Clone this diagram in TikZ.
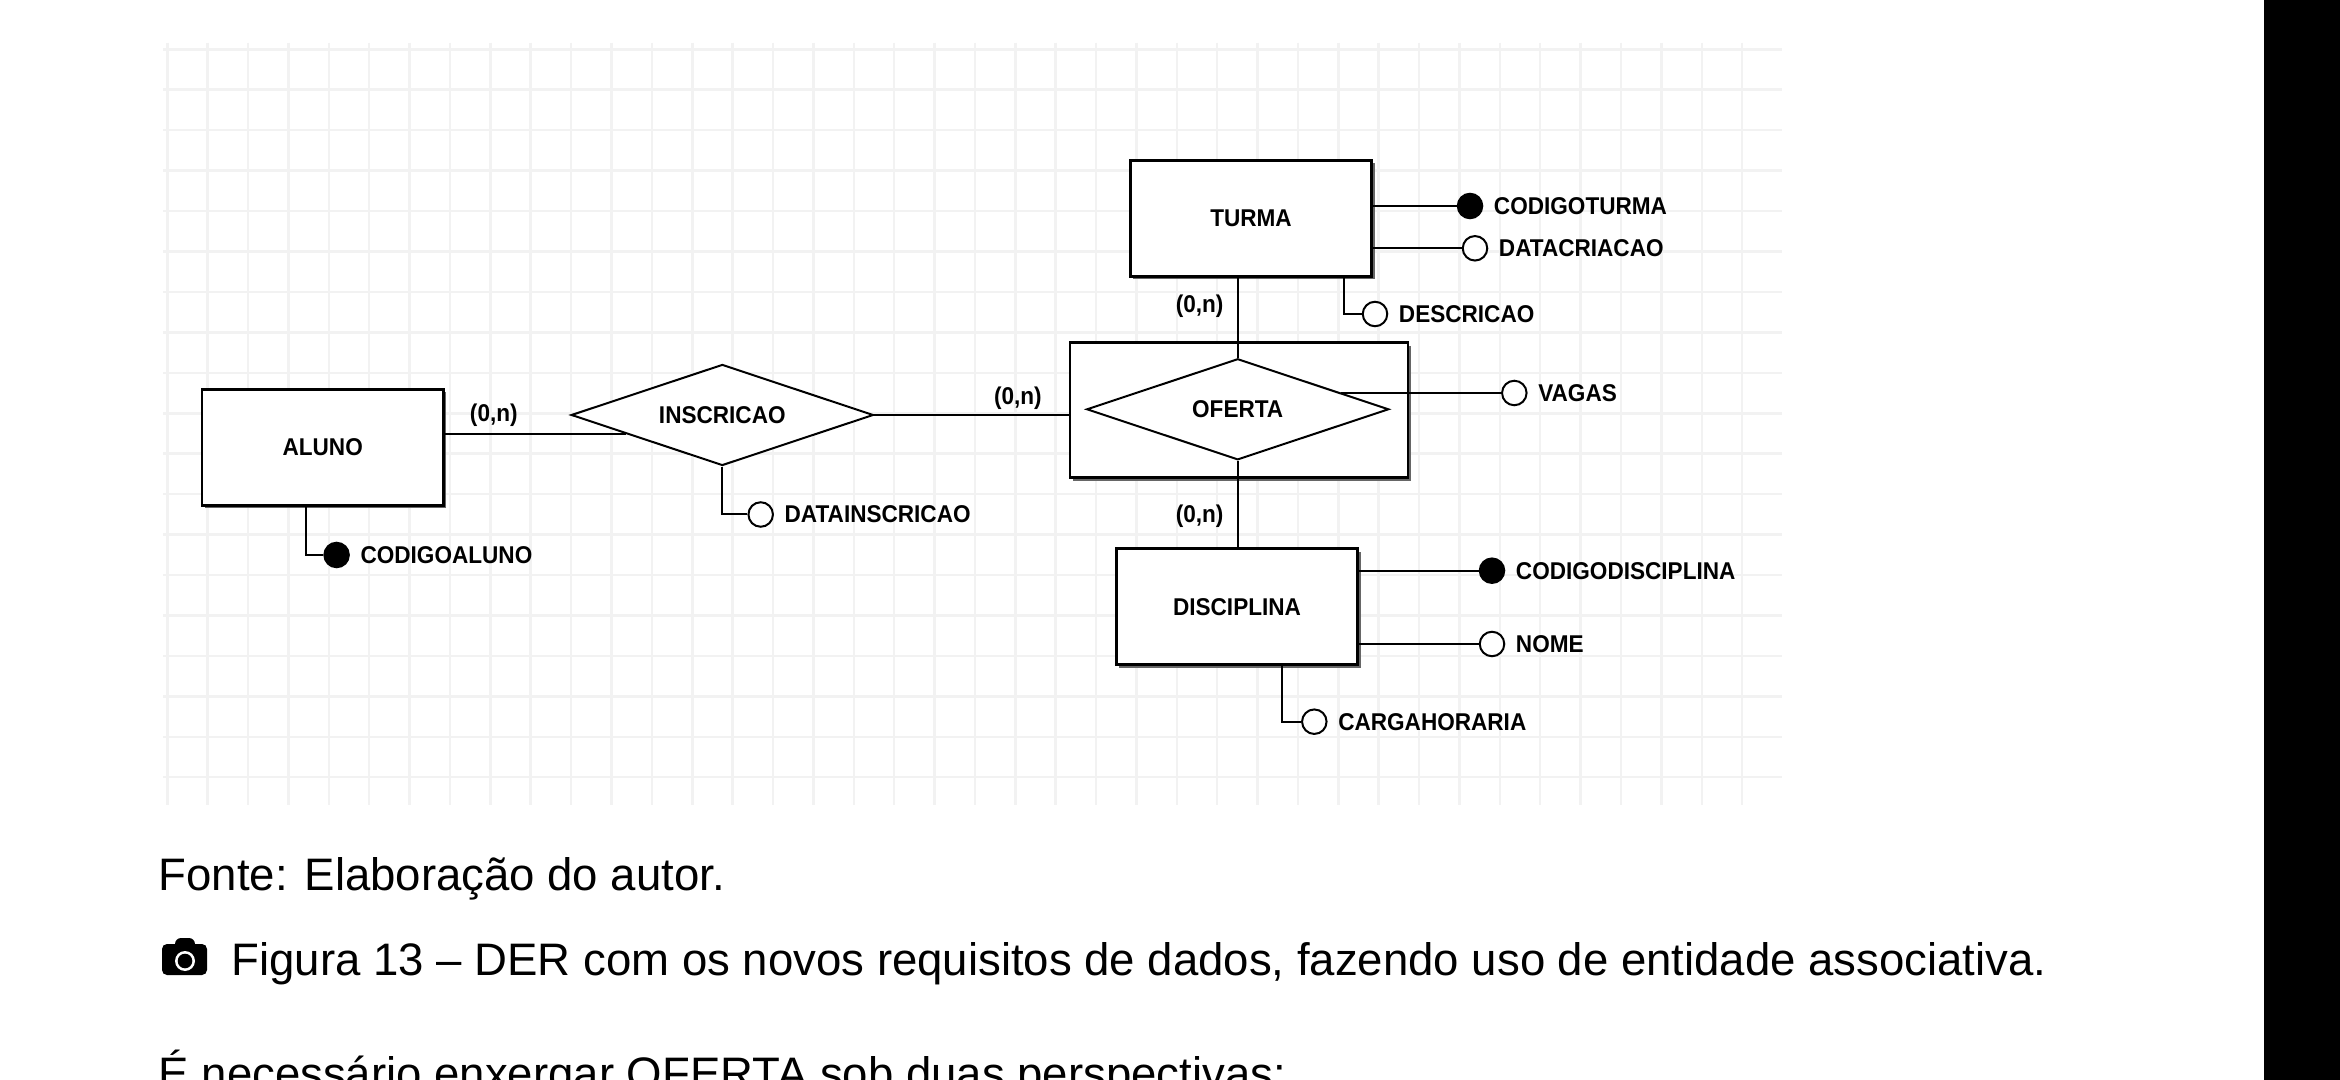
\documentclass[tikz,border=0pt]{standalone}
\usepackage{fontspec}
\setmainfont{Liberation Sans}
\newfontfamily\erfont{Liberation Sans}[FakeStretch=0.93]
\usetikzlibrary{shapes.geometric,shadows,positioning}

\begin{document}
\begin{tikzpicture}[x=0.01cm, y=-0.01cm,
    every node/.style={inner sep=0pt},
    gridline/.style={black!5, line width=0.25mm},
    conn/.style={line width=0.2mm},
    erlabel/.style={font=\erfont\bfseries\fontsize{6.9}{8}\selectfont},
    entity/.style={erlabel, draw, line width=0.27mm, fill=white,
        minimum width=2.41cm, minimum height=1.16cm,
        drop shadow={shadow xshift=0.3mm, shadow yshift=-0.3mm, fill=black!60, opacity=1}},
    relation/.style={erlabel, diamond, draw, line width=0.2mm, fill=white, aspect=3,
        minimum width=3.02cm, minimum height=1.01cm},
    attr/.style={circle, draw, line width=0.2mm, fill=white, minimum size=2.45mm},
    keyattr/.style={attr, fill=black},
    attrlabel/.style={erlabel, right=1mm of #1},
    card/.style={erlabel},
    caption/.style={font=\fontsize{12.95}{15}\selectfont, anchor=base west}]

    \useasboundingbox (0,0) rectangle (2340,1080);
    \fill[white] (0,0) rectangle (2340,1080);
    \fill[black] (2264,0) rectangle (2340,1080);

    % background grid
    \foreach \i in {0,...,39}
        \draw[gridline] (167.3+40.38*\i,42.7) -- (167.3+40.38*\i,805);
    \foreach \j in {0,...,18}
        \draw[gridline] (163,49.3+40.44*\j) -- (1782,49.3+40.44*\j);

    % entities and relationships
    \node[entity] (aluno) at (322.7,447.2) {ALUNO};
    \node[entity] (turma) at (1251,218.4) {TURMA};
    \node[entity] (disciplina) at (1237,606.7) {DISCIPLINA};
    \node[entity, minimum width=3.38cm, minimum height=1.35cm] (ofertabox) at (1239,410.2) {};
    \node[relation] (oferta) at (1237.7,409.3) {OFERTA};
    \node[relation] (inscricao) at (722.3,415) {INSCRICAO};

    % attributes
    \node[keyattr] (codaluno) at (336.6,555) {};
    \node[attrlabel=codaluno] (codalunotxt) {CODIGOALUNO};
    \node[attr] (datainscr) at (760.7,514.5) {};
    \node[attrlabel=datainscr] (datainscrtxt) {DATAINSCRICAO};
    \node[keyattr] (codturma) at (1470,206) {};
    \node[attrlabel=codturma] (codturmatxt) {CODIGOTURMA};
    \node[attr] (datacri) at (1475,248.3) {};
    \node[attrlabel=datacri] (datacritxt) {DATACRIACAO};
    \node[attr] (descr) at (1375,314) {};
    \node[attrlabel=descr] (descrtxt) {DESCRICAO};
    \node[attr] (vagas) at (1514.3,393) {};
    \node[attrlabel=vagas] (vagastxt) {VAGAS};
    \node[keyattr] (coddisc) at (1492,570.7) {};
    \node[attrlabel=coddisc] (coddisctxt) {CODIGODISCIPLINA};
    \node[attr] (nome) at (1492,644) {};
    \node[attrlabel=nome] (nometxt) {NOME};
    \node[attr] (carga) at (1314.3,721.7) {};
    \node[attrlabel=carga] (cargatxt) {CARGAHORARIA};

    % cardinalities
    \node[card] (cardaluno) at (493.8,415) {(0,n)};
    \node[card] (cardoferta) at (1017.9,398.3) {(0,n)};
    \node[card] (cardturma) at (1199.6,306.7) {(0,n)};
    \node[card] (carddisc) at (1199.6,516) {(0,n)};

    % connectors
    \draw[conn] (aluno.east |- inscricao.191) -- (inscricao.191);
    \draw[conn] (inscricao.east) -- (inscricao.east -| ofertabox.west);
    \draw[conn] (turma.south -| oferta.north) -- (oferta.north);
    \draw[conn] (oferta.south) -- (oferta.south |- disciplina.north);
    \draw[conn] (vagas.west -| oferta.9) -- (vagas.west);
    \draw[conn] (codturma.west -| turma.east) -- (codturma.west);
    \draw[conn] (datacri.west -| turma.east) -- (datacri.west);
    \draw[conn] ([xshift=-0.29cm]turma.south east) |- (descr.west);
    \draw[conn] (coddisc.west -| disciplina.east) -- (coddisc.west);
    \draw[conn] (nome.west -| disciplina.east) -- (nome.west);
    \draw[conn] ([xshift=0.45cm]disciplina.south) |- (carga.west);
    \draw[conn] ([xshift=-0.17cm]aluno.south) |- (codaluno.west);
    \draw[conn] (inscricao.south) |- (datainscr.west);

    % camera icon
    \fill[rounded corners=0.6mm] (175,938) rectangle (195,950);
    \fill[rounded corners=0.5mm] (162,944) rectangle (207,975);
    \fill[white] (185,961) circle (10);
    \fill[black] (185,961) circle (7.3);

    % caption text
    \node[caption] (fonte) at (158,890) {Fonte: Elaboração do autor.};
    \node[caption] (figura) at (231,975) {Figura 13 – DER com os novos requisitos de dados, fazendo uso de entidade associativa.};
    \node[caption] (texto) at (158,1089) {É necessário enxergar OFERTA sob duas perspectivas:};
\end{tikzpicture}
\end{document}
